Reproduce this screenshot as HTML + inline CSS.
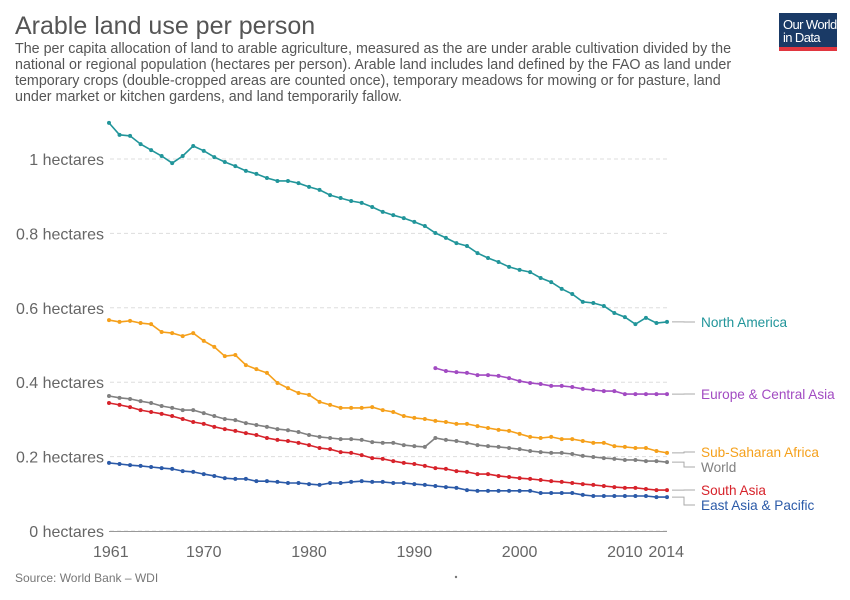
<!DOCTYPE html>
<html><head><meta charset="utf-8"><style>
body{margin:0;background:#fff;font-family:"Liberation Sans",sans-serif;}
#c{position:relative;width:850px;height:600px;overflow:hidden}
</style></head><body>
<div id="c">
<svg id="s" width="850" height="600" xmlns="http://www.w3.org/2000/svg">
<text x="15" y="34" font-size="25" fill="#555">Arable land use per person</text>
<g font-size="14.3" fill="#555">
<text x="15" y="53">The per capita allocation of land to arable agriculture, measured as the are under arable cultivation divided by the</text>
<text x="15" y="69">national or regional population (hectares per person). Arable land includes land defined by the FAO as land under</text>
<text x="15" y="85">temporary crops (double-cropped areas are counted once), temporary meadows for mowing or for pasture, land</text>
<text x="15" y="101">under market or kitchen gardens, and land temporarily fallow.</text>
</g>
<g>
<rect x="779" y="13" width="58" height="38" fill="#1a3a66"/>
<rect x="779" y="47" width="58" height="4" fill="#e1363f"/>
<text x="783" y="29" font-size="13" fill="#fff" letter-spacing="-0.6">Our World</text>
<text x="783" y="42" font-size="13" fill="#fff" letter-spacing="-0.6">in Data</text>
</g>
<g id="grid"></g><g id="series"></g><g id="labels"></g>
<text x="15" y="582" font-size="12" fill="#777">Source: World Bank – WDI</text>
<circle cx="456" cy="577" r="1.2" fill="#777"/>
</svg>
</div>
<script>
const years = [];
for (let y = 1961; y <= 2014; y++) years.push(y);
const yTicks = [0, 0.2, 0.4, 0.6, 0.8, 1];
const yTickLabels = ["0 hectares","0.2 hectares","0.4 hectares","0.6 hectares","0.8 hectares","1 hectares"];
const xTicks = [1961,1970,1980,1990,2000,2010,2014];
const northAmerica = [1.097,1.065,1.062,1.040,1.024,1.008,0.989,1.008,1.035,1.022,1.005,0.992,0.981,0.968,0.960,0.949,0.941,0.941,0.935,0.925,0.917,0.903,0.895,0.887,0.882,0.871,0.858,0.849,0.841,0.831,0.820,0.801,0.788,0.774,0.766,0.747,0.734,0.723,0.710,0.702,0.696,0.680,0.669,0.651,0.637,0.616,0.613,0.605,0.586,0.575,0.556,0.573,0.559,0.562];
const europeYears = [];
for (let y = 1992; y <= 2014; y++) europeYears.push(y);
const europe = [0.438,0.430,0.427,0.425,0.419,0.419,0.417,0.411,0.403,0.398,0.395,0.390,0.390,0.387,0.382,0.379,0.376,0.376,0.368,0.368,0.368,0.368,0.368];
const subSaharan = [0.567,0.562,0.565,0.559,0.556,0.535,0.532,0.524,0.532,0.511,0.495,0.470,0.473,0.446,0.435,0.425,0.398,0.384,0.371,0.366,0.347,0.339,0.331,0.331,0.331,0.333,0.325,0.320,0.309,0.304,0.301,0.296,0.293,0.288,0.288,0.282,0.277,0.272,0.269,0.261,0.253,0.250,0.253,0.247,0.247,0.242,0.237,0.237,0.228,0.226,0.223,0.223,0.215,0.210];
const world = [0.363,0.358,0.355,0.349,0.344,0.336,0.331,0.325,0.325,0.317,0.309,0.301,0.298,0.290,0.285,0.280,0.274,0.271,0.266,0.258,0.253,0.250,0.247,0.247,0.245,0.239,0.237,0.237,0.231,0.228,0.226,0.250,0.245,0.242,0.237,0.231,0.228,0.226,0.223,0.220,0.215,0.212,0.210,0.210,0.207,0.202,0.199,0.196,0.194,0.191,0.191,0.188,0.188,0.185];
const southAsia = [0.344,0.339,0.333,0.325,0.320,0.315,0.309,0.301,0.293,0.288,0.280,0.274,0.269,0.263,0.258,0.250,0.245,0.242,0.237,0.231,0.223,0.220,0.212,0.210,0.204,0.196,0.194,0.188,0.183,0.180,0.175,0.169,0.167,0.161,0.159,0.153,0.153,0.148,0.145,0.142,0.140,0.137,0.134,0.132,0.129,0.126,0.124,0.121,0.118,0.116,0.116,0.113,0.110,0.110];
const eastAsia = [0.183,0.180,0.177,0.175,0.172,0.169,0.167,0.161,0.159,0.153,0.148,0.142,0.140,0.140,0.134,0.134,0.132,0.129,0.129,0.126,0.124,0.129,0.129,0.132,0.134,0.132,0.132,0.129,0.129,0.126,0.124,0.121,0.118,0.116,0.110,0.108,0.108,0.108,0.108,0.108,0.108,0.102,0.102,0.102,0.102,0.097,0.094,0.094,0.094,0.094,0.094,0.094,0.091,0.091];

const X = y => 109 + (y - 1961) * (667 - 109) / 53;
const Y = v => 531 - v * 372;
const NS = "http://www.w3.org/2000/svg";
function mk(tag, attrs, parent) { const e = document.createElementNS(NS, tag); for (const k in attrs) e.setAttribute(k, attrs[k]); parent.appendChild(e); return e; }
const grid = document.getElementById('grid'), ser = document.getElementById('series'), lab = document.getElementById('labels');

yTicks.forEach((t, i) => {
  const l = mk('line', {x1:110, x2:667, y1:Y(t), y2:Y(t), stroke:'#ddd', 'stroke-dasharray':'4,3'}, grid);
  
  
  const tx = mk('text', {x:104, y:Y(t)+6, 'font-size':16, fill:'#666', 'text-anchor':'end'}, grid);
  tx.textContent = yTickLabels[i];
  
  
});
const axis = mk('line', {x1:109, x2:667, y1:531.5, y2:531.5, stroke:'#999'}, grid);


xTicks.forEach(t => {
  const anchor = t === 1961 ? 'start' : (t === 2014 ? 'end' : 'middle');
  const xo = t === 1961 ? -16 : (t === 2014 ? 17 : 0);
  const tx = mk('text', {x:X(t)+xo, y:557, 'font-size':16, fill:'#666', 'text-anchor':anchor}, grid);
  tx.textContent = t;
  
  
});

const seriesList = [
  {name:'North America', yrs:years, vals:northAmerica, color:'#21959a', ly:322, key:'north-america'},
  {name:'Europe & Central Asia', yrs:europeYears, vals:europe, color:'#a24bc2', ly:394, key:'europe-central-asia'},
  {name:'Sub-Saharan Africa', yrs:years, vals:subSaharan, color:'#f5a01b', ly:452, key:'sub-saharan-africa'},
  {name:'World', yrs:years, vals:world, color:'#808080', ly:467, key:'world'},
  {name:'South Asia', yrs:years, vals:southAsia, color:'#d7232b', ly:490, key:'south-asia'},
  {name:'East Asia & Pacific', yrs:years, vals:eastAsia, color:'#2b5aa8', ly:505, key:'east-asia-pacific'}
];
seriesList.forEach(s => {
  const g = mk('g', {}, ser);
  
  
  const pts = s.vals.map((v, i) => X(s.yrs[i]).toFixed(1) + ',' + Y(v).toFixed(1)).join(' ');
  const pl = mk('polyline', {points:pts, fill:'none', stroke:s.color, 'stroke-width':1.6}, g);
  
  
  s.vals.forEach((v, i) => {
    const c = mk('circle', {cx:X(s.yrs[i]), cy:Y(v), r:2, fill:s.color}, g);
    
    
  });
  const endY = Y(s.vals[s.vals.length - 1]);
  const conn = mk('polyline', {points:`672,${endY} 684,${endY} 684,${s.ly} 695,${s.ly}`, fill:'none', stroke:'#aaa', 'stroke-width':1}, lab);
  
  
  const t = mk('text', {x:701, y:s.ly+5, 'font-size':13.6, fill:s.color}, lab);
  t.textContent = s.name;
  
  
});
</script>
</body></html>
